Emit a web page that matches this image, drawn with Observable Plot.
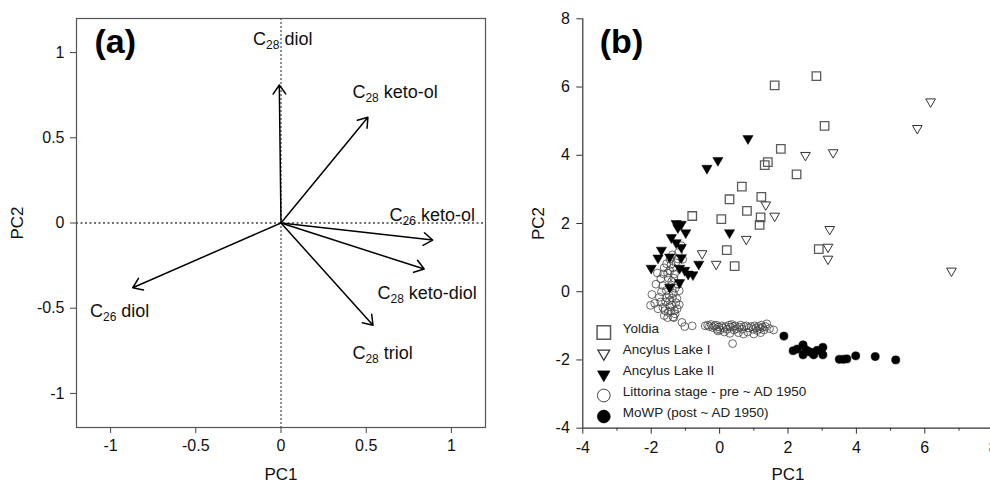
<!DOCTYPE html>
<html><head><meta charset="utf-8">
<script src="https://cdn.jsdelivr.net/npm/d3@7"></script>
<script src="https://cdn.jsdelivr.net/npm/@observablehq/plot@0.6"></script>
<style>
html,body{margin:0;padding:0;background:#fff;overflow:hidden;}
#wrap{position:relative;width:990px;height:483px;overflow:hidden;background:#fff;}
#pa{position:absolute;left:0;top:0;width:500px;}
#pb{position:absolute;left:500px;top:0;width:510px;}
#wrap svg{max-width:none !important;}
</style></head><body>
<div id="wrap"><div id="pa"></div><div id="pb"></div></div>
<script>
// ---------- Panel (a): loadings ----------
const loadNames = ["C28 diol", "C28 keto-ol", "C26 keto-ol", "C28 keto-diol", "C28 triol", "C26 diol"];
const loadPC1 = [-0.01, 0.51, 0.89, 0.84, 0.54, -0.87];
const loadPC2 = [0.81, 0.62, -0.10, -0.27, -0.60, -0.38];
const labelPC1 = [-0.164, 0.419, 0.637, 0.566, 0.419, -1.121];
const labelPC2 = [1.078, 0.766, 0.045, -0.413, -0.764, -0.515];
const aTicks = [-1, -0.5, 0, 0.5, 1];

// ---------- Panel (b): scores ----------
const bTicks = [-4, -2, 0, 2, 4, 6, 8];
const bMinorTicks = [-3, -1, 1, 3, 5, 7];
const legendLabels = ["Yoldia", "Ancylus Lake I", "Ancylus Lake II", "Littorina stage - pre ~ AD 1950", "MoWP (post ~ AD 1950)"];

const yoldia = [[2.83,6.32],[1.61,6.05],[3.07,4.86],[1.79,4.19],[1.41,3.80],[1.32,3.71],[2.25,3.44],[0.65,3.08],[0.29,2.71],[1.22,2.78],[0.80,2.37],[1.20,2.18],[1.17,1.96],[-0.80,2.22],[0.05,2.13],[0.21,1.22],[0.44,0.75],[2.90,1.25]];
const ancylusI = [[6.17,5.57],[5.78,4.79],[2.51,4.00],[3.32,4.08],[1.35,2.55],[1.61,2.22],[3.22,1.83],[3.17,1.31],[3.17,0.96],[0.78,1.54],[-0.51,1.12],[-0.10,0.81],[6.78,0.61]];
const ancylusII = [[0.83,4.49],[-0.05,3.85],[-0.37,3.62],[0.29,1.73],[-1.27,2.00],[-1.12,1.98],[-1.22,1.88],[-0.99,1.73],[-1.41,1.59],[-1.27,1.44],[-1.12,1.30],[-1.70,1.22],[-1.46,1.02],[-1.12,1.00],[-1.80,0.99],[-2.00,0.69],[-1.17,0.69],[-1.02,0.63],[-0.92,0.52],[-0.78,0.50],[-0.61,0.81],[-1.17,0.27],[-1.46,0.13]];
const littorina = [[-2.02,-0.40],[-1.98,-0.08],[-1.86,0.22],[-1.82,0.55],[-1.72,0.38],[-1.62,0.70],[-1.55,0.82],[-1.42,0.80],[-1.38,1.08],[-1.22,0.96],[-1.08,0.95],[-1.12,1.35],[-1.18,0.03],[-1.22,0.22],[-1.62,-0.70],[-1.52,-0.76],[-1.32,-0.56],[-1.36,-0.74],[-1.66,-0.46],[-1.76,-0.16],[-1.56,0.04],[-1.38,-0.18],[-1.28,-0.32],[-1.46,-0.26],[-1.32,0.52],[-1.46,0.62],[-1.66,0.18],[-1.90,-0.34],[-1.72,-0.30],[-1.42,-0.56],[-1.24,-0.50],[-1.50,0.40],[-1.40,0.30],[-1.30,0.10],[-1.48,-0.10],[-1.58,-0.30],[-1.44,0.15],[-1.35,-0.05],[-1.25,-0.20],[-1.52,0.55],[-1.36,0.70],[-1.28,0.85],[-1.45,0.95],[-1.60,-0.55],[-1.70,0.00],[-1.55,-0.18],[-1.40,-0.40],[-1.30,-0.65],[-1.50,-0.60],[-1.18,-0.38],[-1.20,1.15],[-1.80,-0.50],[-1.64,0.52],[-1.34,0.40],[-1.46,-0.44],[-1.10,-0.90],[-1.02,-1.02],[-0.80,-1.00],[-1.34,-0.76],
  [-0.42,-1.00],[-0.35,-0.98],[-0.30,-1.02],[-0.25,-0.96],[-0.20,-1.05],[-0.15,-1.00],[-0.10,-0.98],[-0.08,-1.10],[-0.02,-1.03],[0.02,-1.12],[0.06,-1.00],[0.10,-1.06],[0.14,-1.18],[0.18,-1.02],[0.22,-1.10],[0.28,-0.98],[0.32,-1.04],[0.36,-0.96],[0.40,-1.02],[0.42,-1.12],[0.46,-1.00],[0.50,-1.08],[0.55,-1.20],[0.58,-1.04],[0.62,-0.98],[0.66,-1.10],[0.72,-1.02],[0.78,-1.00],[0.82,-1.18],[0.86,-1.06],[0.92,-1.02],[0.98,-1.10],[1.02,-1.00],[1.06,-1.06],[1.10,-1.14],[1.14,-1.02],[1.18,-1.08],[1.22,-0.98],[1.26,-1.04],[1.30,-1.12],[1.34,-1.02],[1.38,-0.94],[1.46,-1.08],[1.58,-1.12],[0.38,-1.52],[0.30,-1.22],[0.70,-1.24],[1.00,-1.24],[-0.05,-1.15],[1.20,-1.20]];
const mowp = [[1.88,-1.30],[2.15,-1.73],[2.27,-1.68],[2.44,-1.56],[2.44,-1.85],[2.52,-1.70],[2.60,-1.75],[2.68,-1.78],[2.75,-1.85],[2.85,-1.72],[3.02,-1.63],[3.02,-1.85],[3.50,-1.98],[3.62,-1.98],[3.72,-1.97],[3.98,-1.88],[4.55,-1.90],[5.15,-2.00]];

const font = "'Liberation Sans', Arial, Helvetica, sans-serif";
const fmt = d => String(d);

const triangleDown = {
  draw(ctx, size) {
    const y = Math.sqrt(size / (3 * Math.sqrt(3)));
    ctx.moveTo(0, 2 * y);
    ctx.lineTo(Math.sqrt(3) * y, -y);
    ctx.lineTo(-Math.sqrt(3) * y, -y);
    ctx.closePath();
  }
};

const groupStyles = [
  {data: yoldia,    symbol: "square", fill: "none",  stroke: "#5a5a5a", sw: 1.3, r: 4.8, lr: 7.6},
  {data: ancylusI,  symbol: triangleDown, fill: "none", stroke: "#333", sw: 1, r: 3.6, lr: 4.4},
  {data: ancylusII, symbol: triangleDown, fill: "#000", stroke: "#000", sw: 0.5, r: 3.8, lr: 4.6},
  {data: littorina, symbol: "circle", fill: "none",  stroke: "#444", sw: 0.8, r: 3.9, lr: 6.4},
  {data: mowp,      symbol: "circle", fill: "#000",  stroke: "#000", sw: 0.5, r: 4.1, lr: 6.4}
];

// ---------- Plot A ----------
const loadings = loadNames.map((name, i) => ({name, x: loadPC1[i], y: loadPC2[i], lx: labelPC1[i], ly: labelPC2[i]}));
const plotA = Plot.plot({
  width: 500, height: 483,
  marginLeft: 76, marginRight: 15, marginTop: 18, marginBottom: 56,
  style: {fontFamily: font, fontSize: "16px", color: "#111", background: "white"},
  x: {domain: [-1.2, 1.2]},
  y: {domain: [-1.2, 1.2]},
  marks: [
    Plot.axisX(aTicks, {anchor: "bottom", tickSize: 6, tickPadding: 6, tickFormat: fmt, fontSize: 16, stroke: "#444", label: "PC1", labelAnchor: "center", labelOffset: 52, labelArrow: "none"}),
    Plot.axisY(aTicks, {anchor: "left", tickSize: 6, tickPadding: 6, tickFormat: fmt, fontSize: 16, stroke: "#444", label: "PC2", labelAnchor: "center", labelOffset: 66, labelArrow: "none"}),
    Plot.ruleX([0], {stroke: "#222", strokeDasharray: "2,2", strokeWidth: 1}),
    Plot.ruleY([0], {stroke: "#444", strokeDasharray: "2,2.5", strokeWidth: 1.3}),
    Plot.arrow(loadings, {x1: 0, y1: 0, x2: "x", y2: "y", stroke: "#000", strokeWidth: 1.5, headLength: 11, headAngle: 70}),
    Plot.text(loadings, {x: "lx", y: "ly", text: "name", textAnchor: "start", fontSize: 18, fill: "#111"}),
    Plot.text(["(a)"], {frameAnchor: "top-left", dx: 18, dy: 10, fontSize: 34, fontWeight: "bold", lineAnchor: "top", textAnchor: "start", fill: "#000"}),
    Plot.frame({stroke: "#555", strokeWidth: 1.2})
  ]
});

// ---------- Plot B ----------
const bMarks = [];
[3, 4, 0, 1, 2].forEach(gi => {
  const g = groupStyles[gi];
  bMarks.push(Plot.dot(g.data, {x: d => d[0], y: d => d[1], symbol: g.symbol, r: g.r, fill: g.fill, stroke: g.stroke, strokeWidth: g.sw}));
});
groupStyles.forEach((g, i) => {
  const dy = -11.7 - 21 * (4 - i);
  bMarks.push(Plot.dot([legendLabels[i]], {frameAnchor: "bottom-left", dx: 21, dy, symbol: g.symbol, r: g.lr, fill: g.fill, stroke: g.stroke, strokeWidth: g.sw + 0.2}));
  bMarks.push(Plot.text([legendLabels[i]], {frameAnchor: "bottom-left", dx: 40, dy, textAnchor: "start", fontSize: 13.5, fill: "#222"}));
});

const plotB = Plot.plot({
  width: 510, height: 483,
  marginLeft: 82.3, marginRight: 17.3, marginTop: 18.3, marginBottom: 55.3,
  style: {fontFamily: font, fontSize: "16px", color: "#111", background: "white", maxWidth: "none"},
  x: {domain: [-4, 8]},
  y: {domain: [-4, 8]},
  marks: [
    Plot.axisX(bTicks, {anchor: "bottom", tickSize: 6, tickPadding: 7, tickFormat: fmt, fontSize: 16, stroke: "#333", label: "PC1", labelAnchor: "center", labelOffset: 52, labelArrow: "none"}),
    Plot.axisX(bMinorTicks, {anchor: "bottom", tickSize: 3, tickFormat: () => "", label: null, stroke: "#333"}),
    Plot.axisY(bTicks, {anchor: "left", tickSize: 6, tickPadding: 7, tickFormat: fmt, fontSize: 16, stroke: "#333", label: "PC2", labelAnchor: "center", labelOffset: 51, labelArrow: "none"}),
    ...bMarks,
    Plot.text(["(b)"], {frameAnchor: "top-left", dx: 17, dy: 10, fontSize: 34, fontWeight: "bold", lineAnchor: "top", textAnchor: "start", fill: "#000"}),
    Plot.ruleX([-4], {stroke: "#333", strokeWidth: 1.2}),
    Plot.ruleY([-4], {stroke: "#333", strokeWidth: 1.2})
  ]
});

document.getElementById("pa").appendChild(plotA);
document.getElementById("pb").appendChild(plotB);

function subscriptify(svg) {
  svg.querySelectorAll("text").forEach(t => {
    const m = /^C(\d\d)( .+)$/.exec(t.textContent);
    if (!m || t.children.length) return;
    t.textContent = "C";
    const ns = "http://www.w3.org/2000/svg";
    const s = document.createElementNS(ns, "tspan");
    s.setAttribute("dy", "4"); s.setAttribute("font-size", "12"); s.textContent = m[1];
    const r = document.createElementNS(ns, "tspan");
    r.setAttribute("dy", "-4"); r.textContent = m[2];
    t.appendChild(s); t.appendChild(r);
  });
}
subscriptify(plotA);
[plotA, plotB].forEach(svg => {
  svg.style.maxWidth = "none";
  svg.querySelectorAll('g[aria-label="x-axis label"], g[aria-label="y-axis label"]').forEach(g => g.setAttribute("font-size", "17"));
});
</script></body></html>
